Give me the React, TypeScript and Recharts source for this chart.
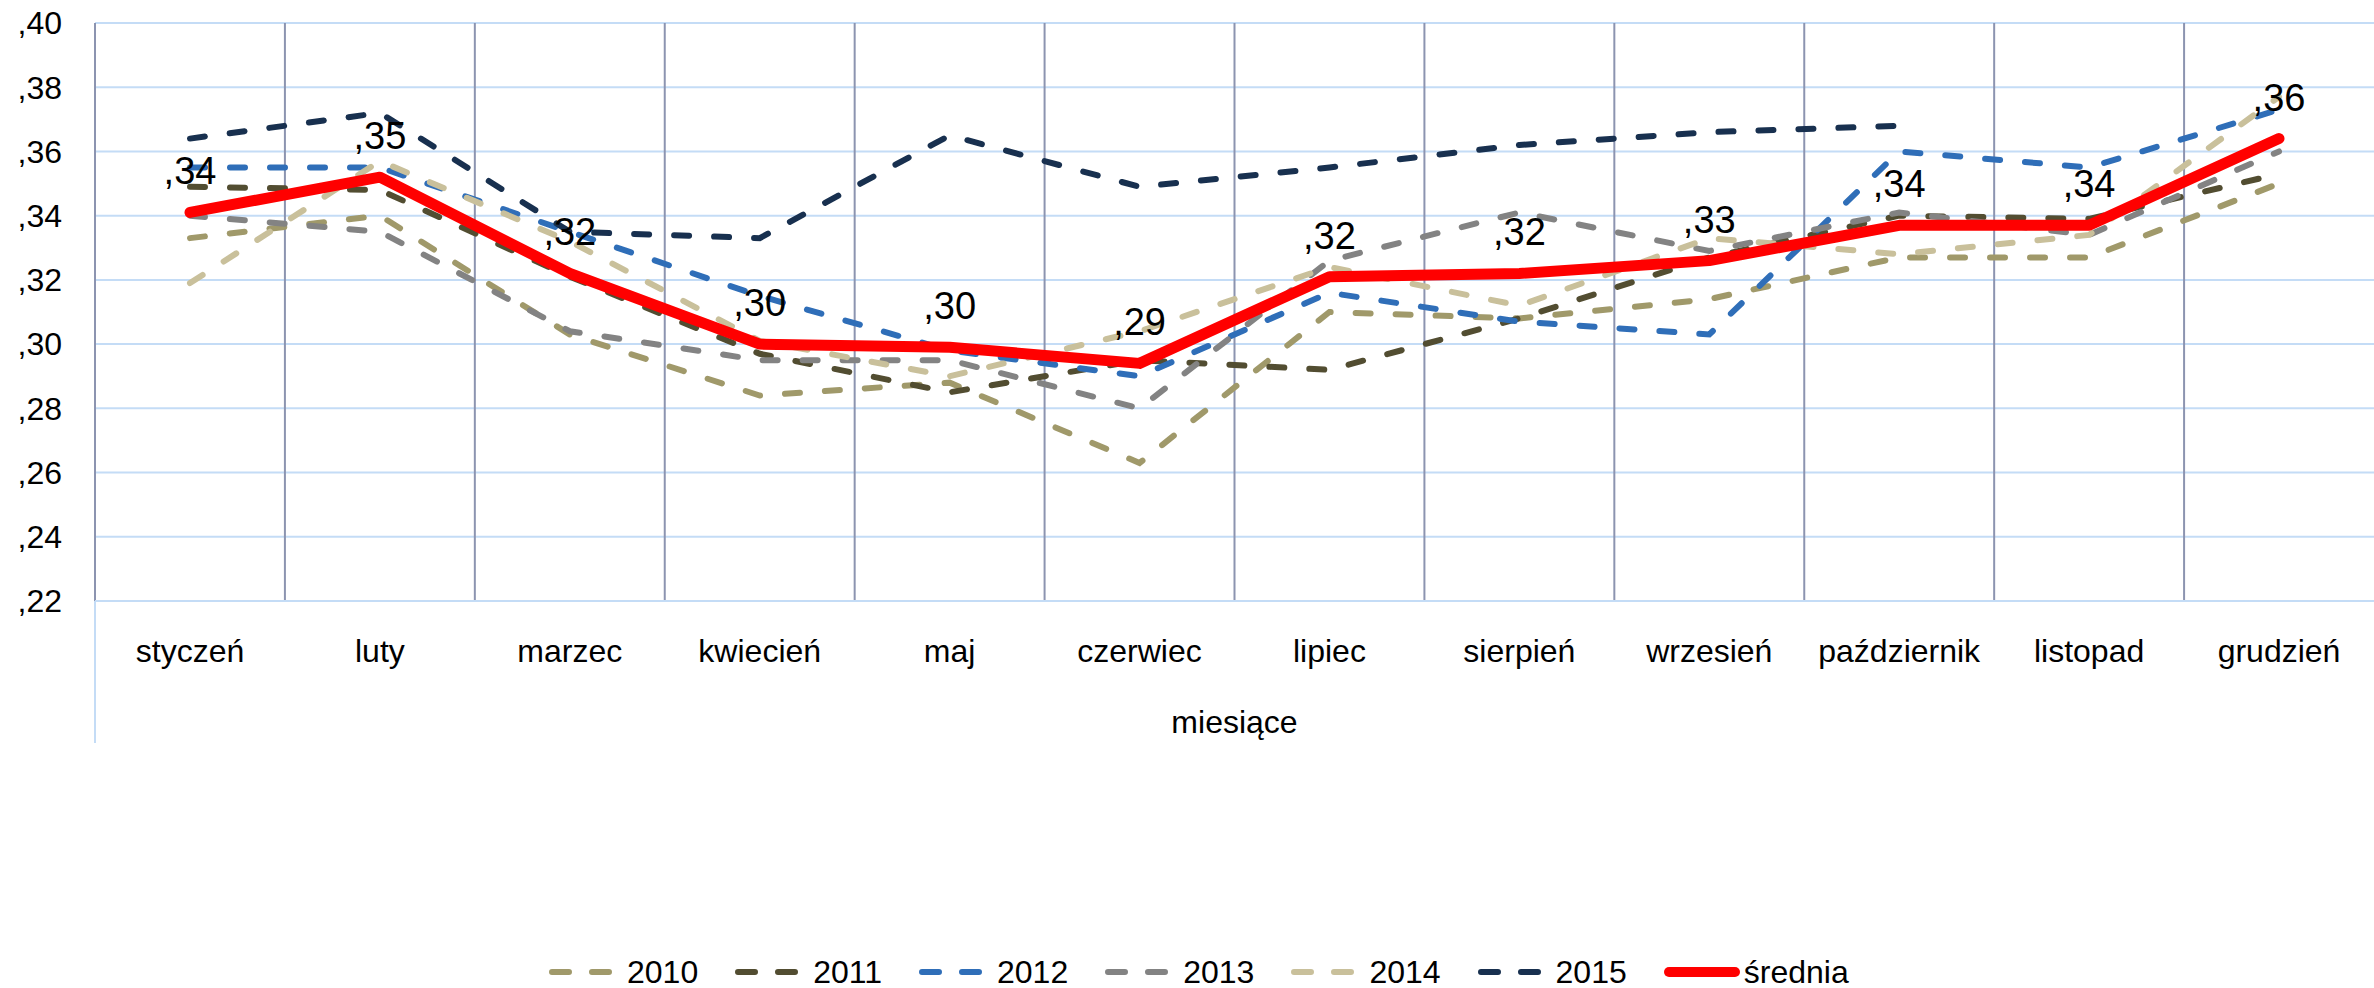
import { LineChart, Line, XAxis, YAxis, CartesianGrid, Legend, LabelList } from 'recharts';

const months = ['styczeń', 'luty', 'marzec', 'kwiecień', 'maj', 'czerwiec', 'lipiec', 'sierpień', 'wrzesień', 'październik', 'listopad', 'grudzień'];

const s2010 = [0.333, 0.340, 0.303, 0.284, 0.288, 0.263, 0.310, 0.308, 0.314, 0.327, 0.327, 0.350];
const s2011 = [0.349, 0.348, 0.321, 0.297, 0.285, 0.295, 0.292, 0.308, 0.327, 0.340, 0.339, 0.353];
const s2012 = [0.355, 0.355, 0.335, 0.315, 0.298, 0.290, 0.316, 0.307, 0.303, 0.360, 0.355, 0.373];
const s2013 = [0.340, 0.335, 0.304, 0.295, 0.295, 0.280, 0.326, 0.341, 0.329, 0.341, 0.334, 0.360];
const s2014 = [0.319, 0.357, 0.332, 0.301, 0.290, 0.304, 0.324, 0.312, 0.333, 0.328, 0.334, 0.377];
const s2015 = [0.364, 0.372, 0.335, 0.333, 0.365, 0.349, 0.355, 0.362, 0.366, 0.368, null, null];
const srednia = [0.341, 0.352, 0.322, 0.300, 0.299, 0.294, 0.321, 0.322, 0.326, 0.337, 0.337, 0.364];

const yTicks = [0.22, 0.24, 0.26, 0.28, 0.30, 0.32, 0.34, 0.36, 0.38, 0.40];

const series = [
  { key: 'y2010', name: '2010', color: '#A0996A', values: s2010 },
  { key: 'y2011', name: '2011', color: '#524D31', values: s2011 },
  { key: 'y2012', name: '2012', color: '#2F6EB8', values: s2012 },
  { key: 'y2013', name: '2013', color: '#838383', values: s2013 },
  { key: 'y2014', name: '2014', color: '#C9C09B', values: s2014 },
  { key: 'y2015', name: '2015', color: '#18304F', values: s2015 },
];

const rows = months.map((m, i) => {
  const row: Record<string, any> = { month: m, srednia: srednia[i] };
  series.forEach((s) => { row[s.key] = s.values[i]; });
  return row;
});

const FONT = '"Liberation Sans", Arial, sans-serif';
const GRID_BLUE = '#C4DCF6';
const GRID_GRAY = '#8C94B0';

const fmt = (v: number) => ',' + String(Math.round(v * 100)).padStart(2, '0');

const renderLegend = () => (
  <div style={{ display: 'flex', alignItems: 'center', height: 56, fontFamily: FONT, fontSize: 32, color: '#000' }}>
    {series.map((s) => (
      <div key={s.key} style={{ display: 'flex', alignItems: 'center', marginRight: 37 }}>
        <svg width={63} height={14} style={{ display: 'block' }}>
          <line x1={3} y1={7} x2={60} y2={7} stroke={s.color} strokeWidth={6} strokeDasharray="17 23" strokeLinecap="round" />
        </svg>
        <span style={{ marginLeft: 15 }}>{s.name}</span>
      </div>
    ))}
    <div style={{ display: 'flex', alignItems: 'center' }}>
      <svg width={76} height={14} style={{ display: 'block' }}>
        <line x1={5} y1={7} x2={71} y2={7} stroke="#FF0000" strokeWidth={10} strokeLinecap="round" />
      </svg>
      <span style={{ marginLeft: 4 }}>średnia</span>
    </div>
  </div>
);

const AxisTitle = (props: any) => {
  const { x, y, width } = props.viewBox;
  return (
    <g>
      <line x1={x} y1={y} x2={x} y2={y + 142} stroke={GRID_BLUE} strokeWidth={2} />
      <text x={x + width / 2} y={y + 132} textAnchor="middle" fontFamily={FONT} fontSize={32} fill="#000">
        miesiące
      </text>
    </g>
  );
};

export default function App() {
  return (
    <div style={{ position: 'absolute', left: 0, top: 0, background: '#fff' }}>
      <LineChart width={2374} height={988} data={rows} margin={{ top: 23, right: 0, left: 0, bottom: 0 }}>
        <CartesianGrid horizontal vertical={false} stroke={GRID_BLUE} strokeWidth={2} />
        <CartesianGrid
          horizontal={false}
          stroke={GRID_GRAY}
          strokeWidth={2}
          verticalCoordinatesGenerator={({ offset }: any) =>
            months.map((_, i) => offset.left + (offset.width * i) / months.length)
          }
        />
        <XAxis
          dataKey="month"
          interval={0}
          height={331}
          padding={{ left: 95, right: 95 }}
          tickLine={false}
          tickSize={0}
          tickMargin={38}
          axisLine={{ stroke: GRID_BLUE, strokeWidth: 2 }}
          tick={{ fontFamily: FONT, fontSize: 32, fill: '#000' }}
          label={<AxisTitle />}
        />
        <YAxis
          width={95}
          domain={[0.22, 0.4]}
          ticks={yTicks}
          tickFormatter={fmt}
          tickLine={false}
          tickSize={0}
          tickMargin={33}
          axisLine={false}
          tick={{ fontFamily: FONT, fontSize: 32, fill: '#000' }}
        />
        <Legend
          content={renderLegend}
          wrapperStyle={{ position: 'absolute', top: 944, left: 549, bottom: 'auto', width: 1500, height: 56 }}
        />
        {series.map((s) => (
          <Line
            key={s.key}
            type="linear"
            dataKey={s.key}
            name={s.name}
            stroke={s.color}
            strokeWidth={6}
            strokeDasharray="15 25"
            strokeLinecap="round"
            dot={false}
            activeDot={false}
            isAnimationActive={false}
          />
        ))}
        <Line
          type="linear"
          dataKey="srednia"
          name="średnia"
          stroke="#FF0000"
          strokeWidth={11}
          strokeLinecap="round"
          strokeLinejoin="round"
          dot={false}
          activeDot={false}
          isAnimationActive={false}
        >
          <LabelList dataKey="srednia" position="top" offset={28} formatter={fmt} fontFamily={FONT} fontSize={38} fill="#000" />
        </Line>
      </LineChart>
    </div>
  );
}
